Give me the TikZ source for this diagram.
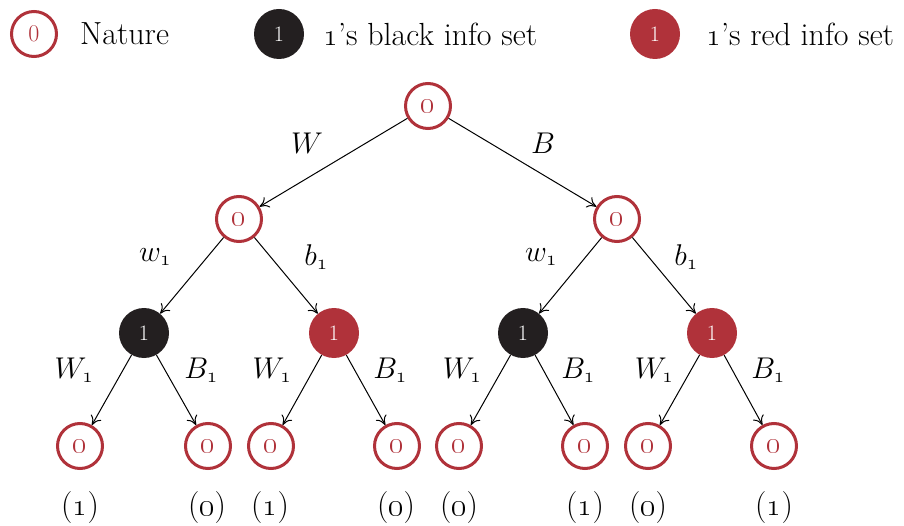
\RequirePackage{fix-cm}
\documentclass[tikz,border=0pt]{standalone}
\usetikzlibrary{arrows.meta}
\definecolor{natred}{HTML}{B0323A}
\definecolor{infoblack}{HTML}{231F20}
\tikzset{
  nat/.style={circle, draw=natred, line width=3pt, minimum size=45pt, inner sep=0pt, text=natred, fill=white, font=\fontsize{30}{30}\selectfont},
  blk/.style={circle, fill=infoblack, minimum size=50pt, inner sep=0pt, text=white, font=\fontsize{22}{22}\selectfont},
  rset/.style={circle, fill=natred, minimum size=50pt, inner sep=0pt, text=white, font=\fontsize{22}{22}\selectfont},
  edge/.style={-{To[length=9pt,width=12pt]}, line width=1pt, black},
  lab/.style={font=\fontsize{30}{34}\selectfont, inner sep=0pt},
  pay/.style={font=\fontsize{32}{36}\selectfont, inner sep=0pt},
  legtext/.style={font=\fontsize{32}{36}\selectfont, inner sep=0pt},
}
\begin{document}
\begin{tikzpicture}[x=1pt,y=-1pt]
\useasboundingbox (0,0) rectangle (904,526);
% legend
\node[nat, font=\fontsize{24}{24}\selectfont] (ln) at (34,34) {0};
\node[legtext, anchor=west] (lnt) at (80,34) {Nature};
\node[blk, font=\fontsize{22}{22}\selectfont] (lb) at (279,34) {1};
\node[legtext, anchor=west] (lbt) at (323,34) {\oldstylenums{1}'s black info set};
\node[rset, font=\fontsize{22}{22}\selectfont] (lr) at (655,34) {1};
\node[legtext, anchor=west] (lrt) at (706,34) {\oldstylenums{1}'s red info set};
% tree nodes
\node[nat] (r) at (428,106) {\oldstylenums{0}};
\node[nat] (a) at (239,219) {\oldstylenums{0}};
\node[nat] (b) at (617,219) {\oldstylenums{0}};
\node[blk] (a1) at (144,333) {1};
\node[rset] (a2) at (334,333) {1};
\node[blk] (b1) at (523,333) {1};
\node[rset] (b2) at (712,333) {1};
\node[nat] (l1) at (80,446) {\oldstylenums{0}};
\node[nat] (l2) at (208,446) {\oldstylenums{0}};
\node[nat] (l3) at (271,446) {\oldstylenums{0}};
\node[nat] (l4) at (397,446) {\oldstylenums{0}};
\node[nat] (l5) at (459,446) {\oldstylenums{0}};
\node[nat] (l6) at (585,446) {\oldstylenums{0}};
\node[nat] (l7) at (648,446) {\oldstylenums{0}};
\node[nat] (l8) at (774,446) {\oldstylenums{0}};
% edges
\draw[edge] (r) -- (a);
\draw[edge] (r) -- (b);
\draw[edge] (a) -- (a1);
\draw[edge] (a) -- (a2);
\draw[edge] (b) -- (b1);
\draw[edge] (b) -- (b2);
\draw[edge] (a1) -- (l1);
\draw[edge] (a1) -- (l2);
\draw[edge] (a2) -- (l3);
\draw[edge] (a2) -- (l4);
\draw[edge] (b1) -- (l5);
\draw[edge] (b1) -- (l6);
\draw[edge] (b2) -- (l7);
\draw[edge] (b2) -- (l8);
% edge labels
\node[lab] (e1) at (307,143) {$W$};
\node[lab] (e2) at (543,143) {$B$};
\node[lab] (e3) at (155,257) {$w_{\mathnormal{1}}$};
\node[lab] (e4) at (316,257) {$b_{\mathnormal{1}}$};
\node[lab] (e5) at (541,257) {$w_{\mathnormal{1}}$};
\node[lab] (e6) at (686,257) {$b_{\mathnormal{1}}$};
\node[lab] (f1) at (74,370) {$W_{\mathnormal{1}}$};
\node[lab] (f2) at (201,370) {$B_{\mathnormal{1}}$};
\node[lab] (f3) at (272,370) {$W_{\mathnormal{1}}$};
\node[lab] (f4) at (390,370) {$B_{\mathnormal{1}}$};
\node[lab] (f5) at (462,370) {$W_{\mathnormal{1}}$};
\node[lab] (f6) at (578,370) {$B_{\mathnormal{1}}$};
\node[lab] (f7) at (654,370) {$W_{\mathnormal{1}}$};
\node[lab] (f8) at (768,370) {$B_{\mathnormal{1}}$};
% payoffs
\node[pay] (p1) at (80,508) {(\oldstylenums{1})};
\node[pay] (p2) at (207,508) {(\oldstylenums{0})};
\node[pay] (p3) at (270,508) {(\oldstylenums{1})};
\node[pay] (p4) at (396,508) {(\oldstylenums{0})};
\node[pay] (p5) at (459,508) {(\oldstylenums{0})};
\node[pay] (p6) at (585,508) {(\oldstylenums{1})};
\node[pay] (p7) at (648,508) {(\oldstylenums{0})};
\node[pay] (p8) at (774,508) {(\oldstylenums{1})};
\end{tikzpicture}
\end{document}
